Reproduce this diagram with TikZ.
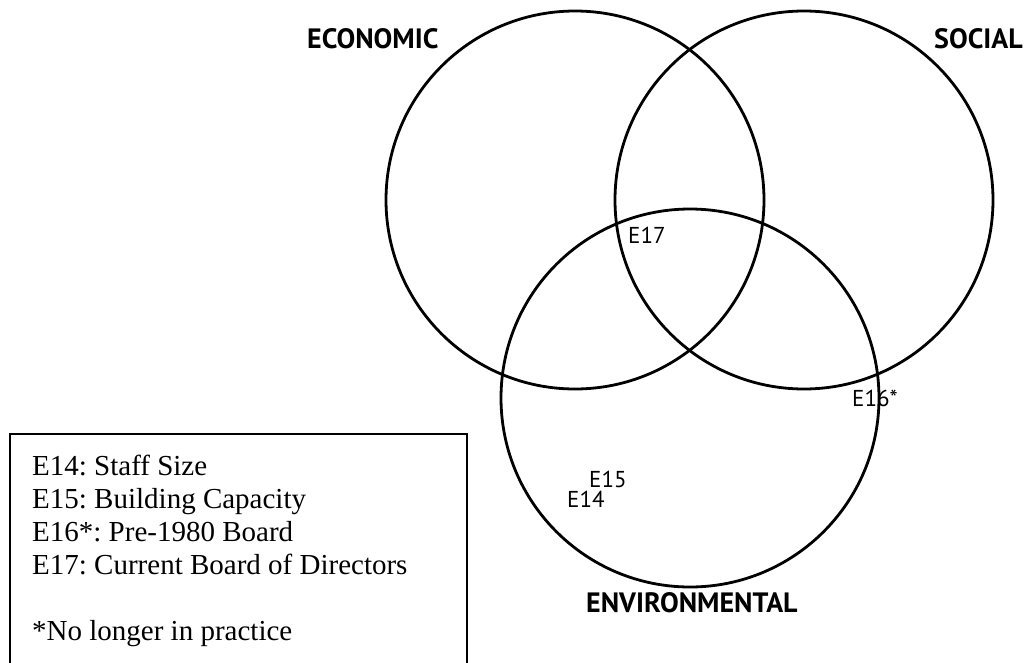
\documentclass[tikz,border=0pt]{standalone}
\usepackage{fontspec}
\setmainfont{Liberation Serif}
\newfontfamily\vennfont{PT Sans}
\frenchspacing
\tikzset{
  ring/.style={line width=2.8pt},
  pillar/.style={font=\vennfont\bfseries\fontsize{28}{30}\selectfont, anchor=base west, inner sep=0pt},
  item/.style={font=\vennfont\fontsize{23}{26}\selectfont, anchor=base west, inner sep=0pt},
}
\begin{document}
\begin{tikzpicture}[x=1pt,y=-1pt]
  \useasboundingbox (0,0) rectangle (1028,662);
  \coordinate (Eco) at (575,200);
  \coordinate (Soc) at (804,200);
  \coordinate (Env) at (690,398);
  \foreach \c in {Eco,Soc,Env}
    \draw[ring] (\c) circle (189pt);
  % titles of the three circles
  \node[pillar] (econame) at (307,48) {ECONOMIC};
  \node[pillar] (socname) at (934,48) {SOCIAL};
  \node[pillar] (envname) at (586,612) {ENVIRONMENTAL};
  % elements
  \node[item] (e17) at (628,243) {E17};
  \node[item] (e16) at (852,406) {E16*};
  \node[item] (e15) at (589,487) {E15};
  \node[item] (e14) at (567,507) {E14};
  % legend, box runs off the bottom
  \draw[line width=1.8pt] (10,670) -- (10,434) -- (467,434) -- (467,670);
  \node[anchor=base west, inner sep=0pt, align=left,
        font=\fontsize{29}{33}\selectfont] (legend) at (32,640)
    {E14: Staff Size\\
     E15: Building Capacity\\
     E16*: Pre-1980 Board\\
     E17: Current Board of Directors\\[33pt]
     *No longer in practice};
\end{tikzpicture}
\end{document}
